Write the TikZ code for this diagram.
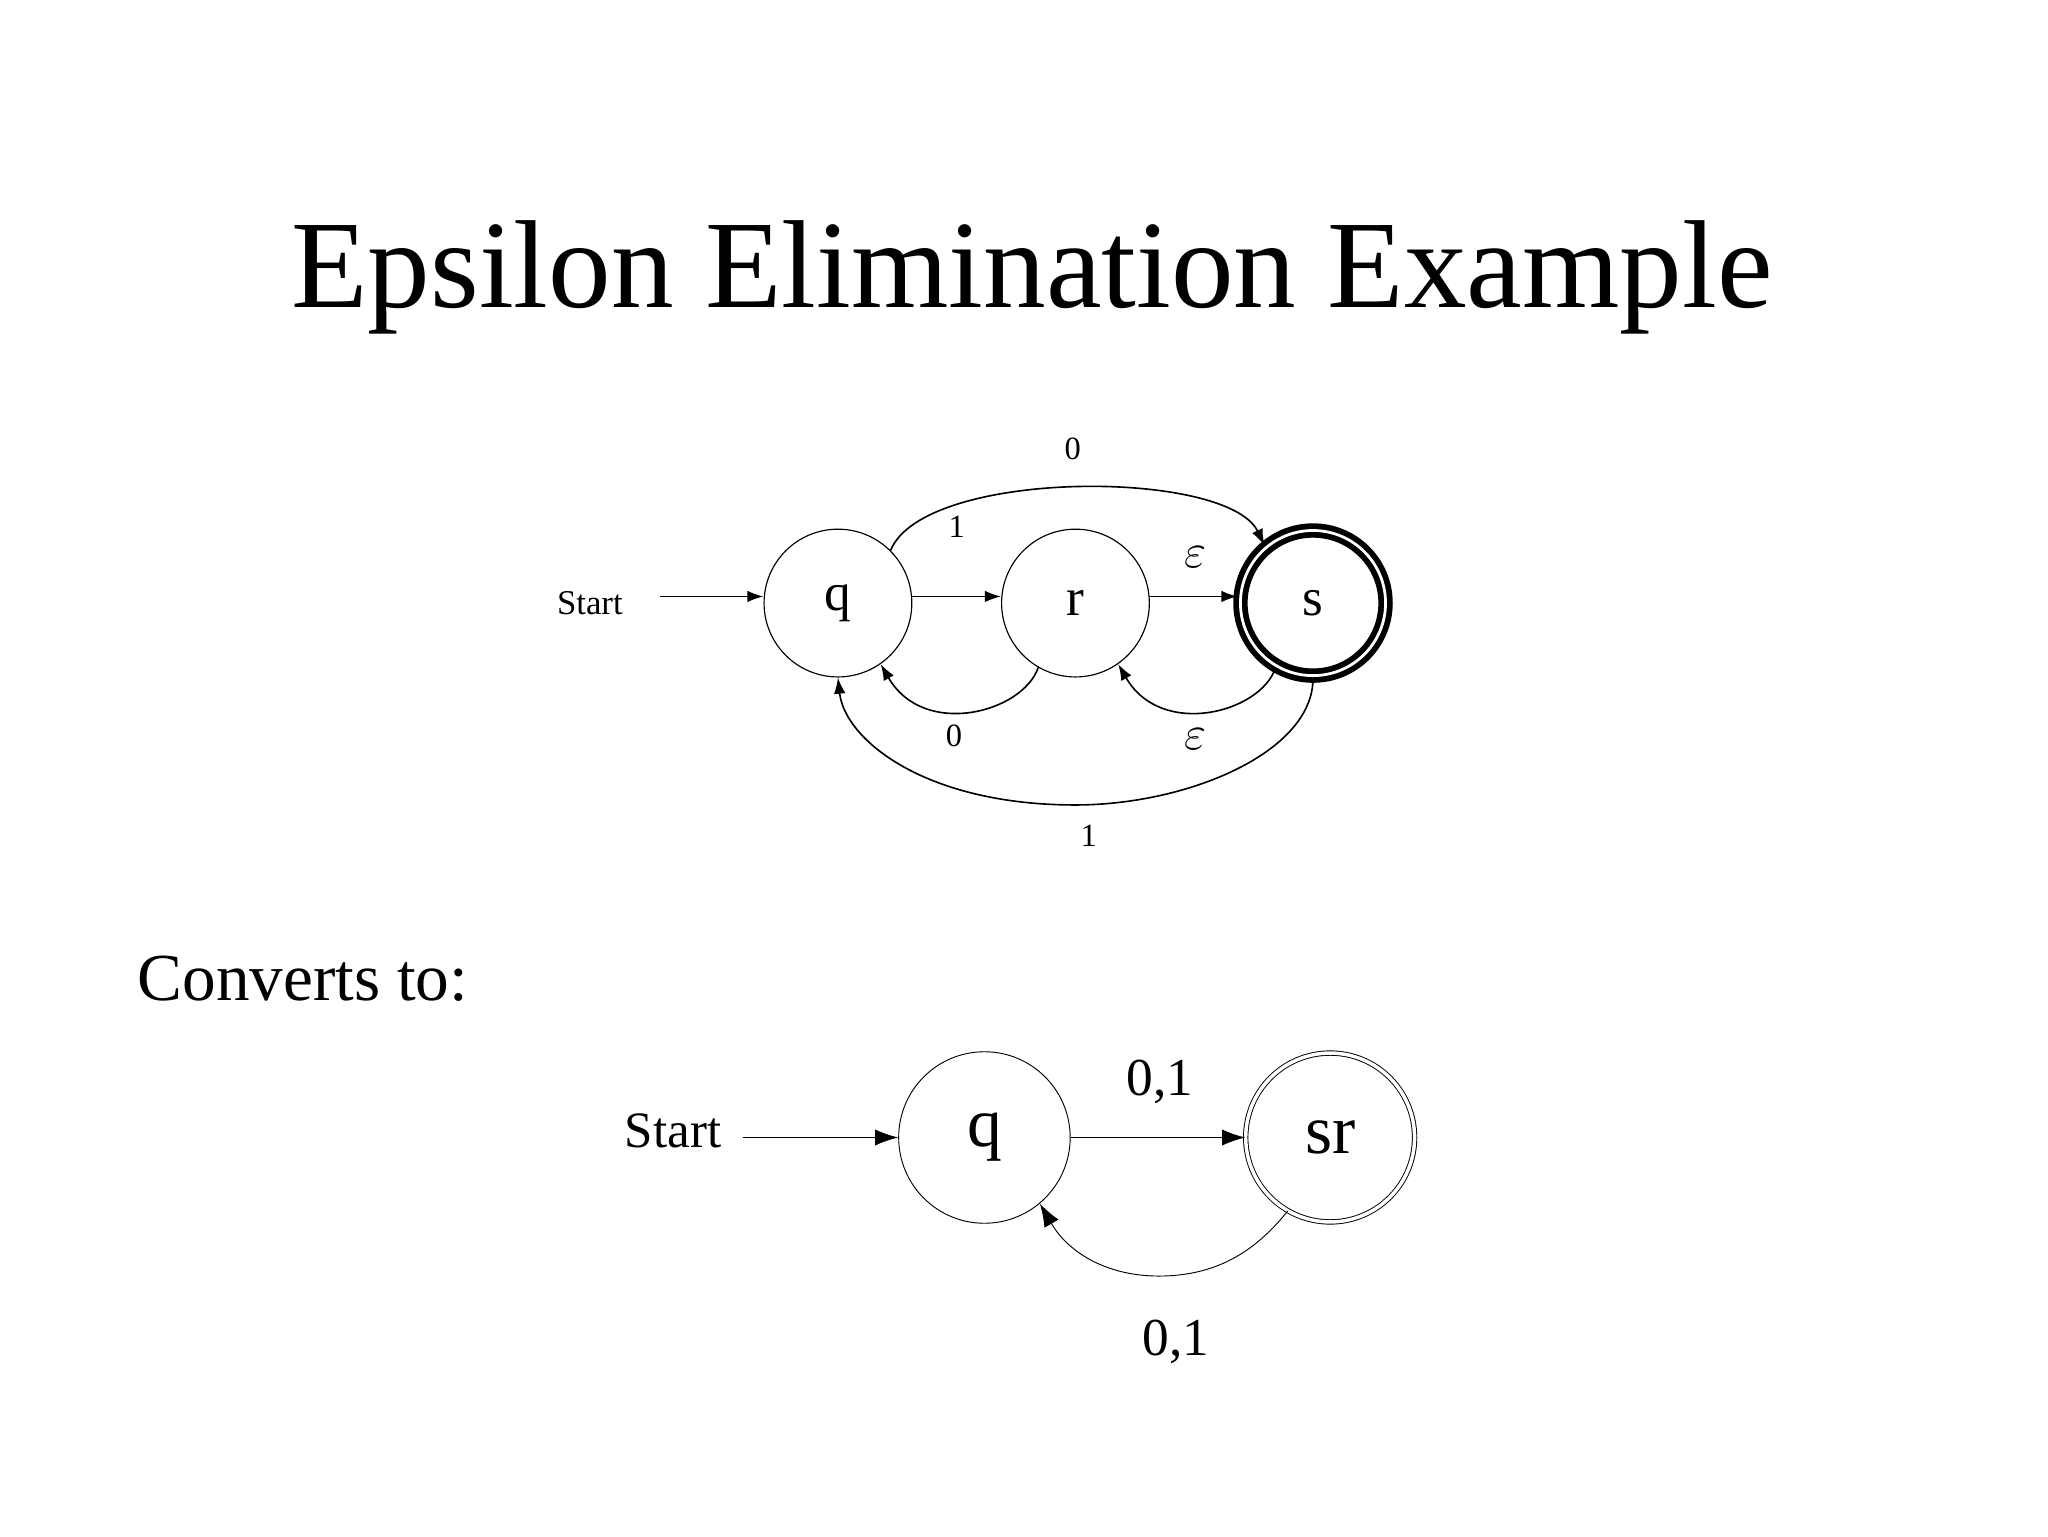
\documentclass[tikz,border=0pt]{standalone}
\usepackage{fontspec}
\setmainfont{Liberation Serif}
\usetikzlibrary{arrows.meta}
\newcommand{\fs}[1]{\fontsize{#1}{#1}\selectfont}
\begin{document}
\begin{tikzpicture}[x=0.02cm,y=-0.02cm,
  st/.style={circle,draw,line width=0.5pt,inner sep=0pt,minimum size=2.24cm},
  arr/.style={-{Latex[length=7pt,width=5pt]},line width=0.7pt},
  lbl/.style={inner sep=0pt}]
\useasboundingbox (0,0) rectangle (1552,1164);
\node[lbl] (title) at (782,210) {\fs{54}Epsilon Elimination Example};
% top automaton
\node[st] (q) at (635,457) {\fs{23}q};
\node[st] (r) at (815,457) {\fs{23}r};
\node[st,line width=2.5pt,double=white,double distance=1.2pt,minimum size=2.2cm] (s) at (995,457) {\fs{23}s};
\node[lbl] (start) at (447,457) {\fs{15}Start};
\coordinate (st0) at (500,452);
\draw[arr] (st0) -- (q.west |- st0);
\draw[arr] (q.east |- st0) -- (r.west |- st0) node[lbl,midway,above=25pt] {\fs{14}1};
\draw[arr] (r.east |- st0) -- (s.west |- st0);
\node[lbl] (e1) at (906,422) {\fs{21}$\varepsilon$};
\draw[arr] (q.45) .. controls (700,355) and (930,355) .. (s.130);
\node[lbl] (l0) at (813,340) {\fs{14}0};
\draw[arr] (r.240) .. controls (775,540) and (700,560) .. (q.305);
\node[lbl] (l0b) at (723,558) {\fs{14}0};
\draw[arr] (s.240) .. controls (955,540) and (880,560) .. (r.305);
\node[lbl] (e2) at (906,560) {\fs{21}$\varepsilon$};
\draw[arr] (s.270) .. controls (995,570) and (900,610) .. (815,610) .. controls (700,610) and (640,560) .. (q.270);
\node[lbl] (l1) at (825,633) {\fs{14}1};
% converts
\node[lbl,anchor=west] (conv) at (104,742) {\fs{29}Converts to:};
% bottom automaton
\node[st,minimum size=2.6cm,line width=0.4pt] (q2) at (746,862) {\fs{30}q};
\node[st,minimum size=2.56cm,line width=0.4pt,double,double distance=1.5pt] (sr) at (1008,862) {\fs{30}sr};
\node[lbl] (start2) at (510,857) {\fs{22}Start};
\draw[arr,line width=0.4pt,-{Latex[length=10pt,width=7pt]}] (563,862) -- (q2.west);
\draw[arr,line width=0.4pt,-{Latex[length=10pt,width=7pt]}] (q2.east) -- (sr.west);
\node[lbl] (l01) at (879,820) {\fs{23}0,1};
\draw[arr,line width=0.4pt,-{Latex[length=10pt,width=7pt]}] (sr.240) .. controls (950,950) and (920,967) .. (878,967) .. controls (840,967) and (810,950) .. (q2.310);
\node[lbl] (l01b) at (891,1017) {\fs{23}0,1};
\end{tikzpicture}
\end{document}
